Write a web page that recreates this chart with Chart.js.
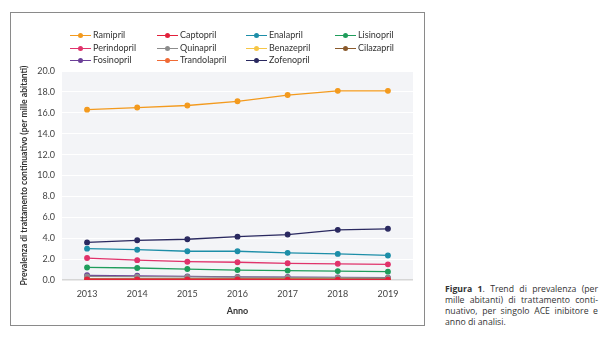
<!DOCTYPE html>
<html lang="it">
<head>
<meta charset="utf-8">
<script src="https://cdn.jsdelivr.net/npm/chart.js@4"></script>
<style>
  body { margin: 0; background: #fff; width: 615px; height: 338px; position: relative; overflow: hidden; font-family: Lato, "Open Sans", sans-serif; }
  #box { position: absolute; left: 10px; top: 12px; width: 413px; height: 312px; border: 1px solid #8a8a8a; }
  #chart { position: absolute; left: 0; top: 0; }
  #legend { position: absolute; left: 59px; top: 16px; width: 360px; }
  .item { position: absolute; font-size: 9px; color: #333; white-space: nowrap; line-height: 12px; }
  .item .sw { display: inline-block; position: relative; width: 21px; height: 12px; vertical-align: top; margin-right: 2px; }
  .item .sw i { position: absolute; left: 0; right: 0; top: 6px; height: 1.3px; }
  .item .sw b { position: absolute; left: 8px; top: 4px; width: 5px; height: 5px; border-radius: 50%; }
  #caption { position: absolute; left: 445px; top: 284px; width: 153px; font-size: 8.7px; line-height: 11px; color: #333; text-align: justify; font-family: "Open Sans", sans-serif; }
</style>
</head>
<body>
<div id="box">
  <canvas id="chart" width="413" height="312"></canvas>
  <div id="legend"></div>
</div>
<div id="caption"><b>Figura 1</b>. Trend di prevalenza (per mille abitanti) di trattamento conti&shy;nuativo, per singolo ACE inibitore e anno di analisi.</div>
<script>
const years = ['2013', '2014', '2015', '2016', '2017', '2018', '2019'];

const drugNames = ['Ramipril', 'Captopril', 'Enalapril', 'Lisinopril', 'Perindopril', 'Quinapril',
                   'Benazepril', 'Cilazapril', 'Fosinopril', 'Trandolapril', 'Zofenopril'];
const drugColors = ['#f39a1e', '#e2213b', '#1d8ea8', '#1f9d5b', '#e0336b', '#8c8c8c',
                    '#f6c646', '#8a5a2c', '#6b3f98', '#f06a35', '#2a2960'];

const ramipril = [16.3, 16.5, 16.7, 17.1, 17.7, 18.1, 18.1];
const captopril = [0.06, 0.05, 0.05, 0.05, 0.04, 0.04, 0.04];
const enalapril = [3.0, 2.9, 2.75, 2.75, 2.6, 2.5, 2.35];
const lisinopril = [1.2, 1.15, 1.05, 0.95, 0.9, 0.85, 0.8];
const perindopril = [2.1, 1.9, 1.75, 1.7, 1.6, 1.55, 1.5];
const quinapril = [0.35, 0.32, 0.3, 0.27, 0.25, 0.22, 0.2];
const benazepril = [0.04, 0.04, 0.03, 0.03, 0.03, 0.03, 0.03];
const cilazapril = [0.08, 0.08, 0.08, 0.08, 0.08, 0.09, 0.1];
const fosinopril = [0.45, 0.4, 0.35, 0.3, 0.28, 0.25, 0.22];
const trandolapril = [0.1, 0.1, 0.1, 0.1, 0.1, 0.1, 0.1];
const zofenopril = [3.6, 3.8, 3.9, 4.15, 4.35, 4.8, 4.9];

const drugValues = [ramipril, captopril, enalapril, lisinopril, perindopril, quinapril,
                    benazepril, cilazapril, fosinopril, trandolapril, zofenopril];

// html legend, 4 columns like the original
const legend = document.getElementById('legend');
const colX = [0, 87, 176, 265];
drugNames.forEach((name, i) => {
    const div = document.createElement('div');
    div.className = 'item';
    div.style.left = colX[i % 4] + 'px';
    div.style.top = (Math.floor(i / 4) * 12.5) + 'px';
    div.innerHTML = '<span class="sw"><i style="background:' + drugColors[i] + '"></i><b style="background:' + drugColors[i] + '"></b></span>' + name;
    legend.appendChild(div);
});

const plotBg = {
    id: 'plotBg',
    beforeDraw(chart) {
        const {ctx, chartArea: a} = chart;
        ctx.save();
        ctx.fillStyle = '#f3f4f7';
        ctx.fillRect(a.left, a.top, a.right - a.left, a.bottom - a.top);
        ctx.restore();
    }
};

const datasets = drugNames.map((name, i) => ({
    label: name,
    data: drugValues[i],
    borderColor: drugColors[i],
    backgroundColor: drugColors[i],
    borderWidth: 1.3,
    pointRadius: 2.3,
    pointHoverRadius: 2.3,
    tension: 0
}));

const ctx = document.getElementById('chart').getContext('2d');
new Chart(ctx, {
    type: 'line',
    data: { labels: years, datasets: datasets },
    plugins: [plotBg],
    options: {
        responsive: false,
        animation: false,
        layout: { padding: { top: 58, right: 11, left: 4, bottom: 0 } },
        plugins: { legend: { display: false }, tooltip: { enabled: false } },
        scales: {
            x: {
                offset: true,
                grid: { display: false },
                border: { display: false },
                ticks: { color: '#444', font: { family: 'Lato', size: 9 }, padding: 1 },
                title: { display: true, text: 'Anno', color: '#333', font: { family: 'Lato', size: 9, weight: 'bold' }, padding: { top: 4, bottom: 9 } },
                afterFit(scale) { scale.height = 45; }
            },
            y: {
                min: 0,
                max: 20,
                ticks: { stepSize: 2, color: '#444', font: { family: 'Lato', size: 9 }, padding: 7,
                         callback: v => v.toFixed(1) },
                grid: { color: ctx => ctx.tick.value === 0 ? '#d6d6d6' : '#ffffff', lineWidth: ctx => ctx.tick.value === 0 ? 1.5 : 1, drawTicks: false },
                border: { display: false },
                title: { display: true, text: 'Prevalenza di trattamento continuativo (per mille abitanti)', color: '#333',
                         font: { family: 'Lato', size: 8.6, weight: 'bold' }, padding: { bottom: 2 } },
                afterFit(scale) { scale.width = 47; }
            }
        }
    }
});
</script>
</body>
</html>
